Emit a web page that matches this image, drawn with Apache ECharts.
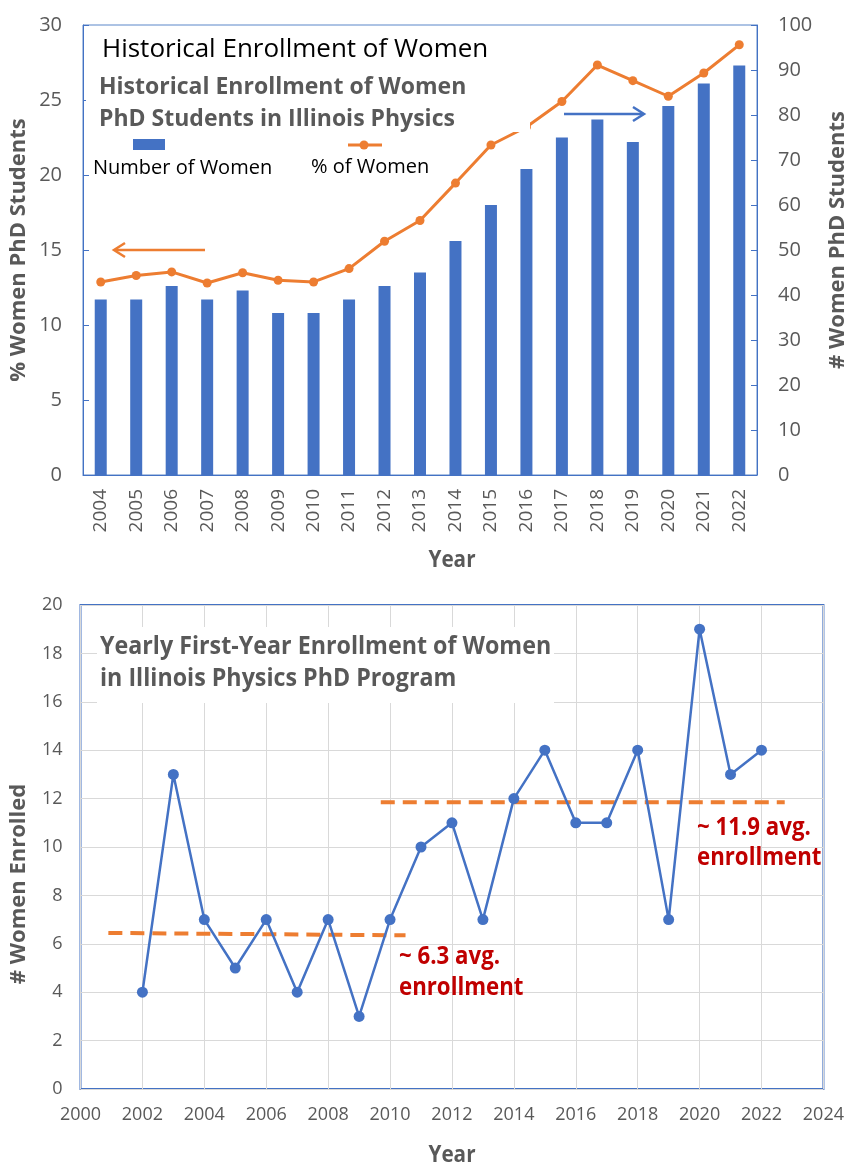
<!DOCTYPE html>
<html>
<head>
<meta charset="utf-8">
<script src="https://cdn.jsdelivr.net/npm/echarts@6/dist/echarts.min.js"></script>
<style>
  html, body { margin: 0; padding: 0; background: #fff; }
  #main { width: 847px; height: 1165px; }
</style>
</head>
<body>
<div id="main"></div>
<script>
// top chart: total women PhD students and their share
const years = ['2004', '2005', '2006', '2007', '2008', '2009', '2010', '2011', '2012', '2013',
  '2014', '2015', '2016', '2017', '2018', '2019', '2020', '2021', '2022']
const womenCount = [39, 39, 42, 39, 41, 36, 36, 39, 42, 45, 52, 60, 68, 75, 79, 74, 82, 87, 91]
const womenPct = [12.87, 13.3, 13.54, 12.8, 13.48, 12.98, 12.87, 13.76, 15.58, 16.97,
  19.46, 22.0, 23.2, 24.9, 27.33, 26.29, 25.25, 26.8, 28.68]
const pctTicks = { min: 0, max: 30, interval: 5 }
const countTicks = { min: 0, max: 100, interval: 10 }

// bottom chart: first-year enrollment
const firstYears = [2002, 2003, 2004, 2005, 2006, 2007, 2008, 2009, 2010, 2011, 2012,
  2013, 2014, 2015, 2016, 2017, 2018, 2019, 2020, 2021, 2022]
const firstYearWomen = [4, 13, 7, 5, 7, 4, 7, 3, 7, 10, 11, 7, 12, 14, 11, 11, 14, 7, 19, 13, 14]
const avgEarly = [[2000.9, 6.45], [2010.5, 6.35]]
const avgLate = [[2009.7, 11.85], [2022.75, 11.85]]
const yearTicks = { min: 2000, max: 2024, interval: 2 }
const enrolledTicks = { min: 0, max: 20, interval: 2 }

const BLUE = '#4472C4'
const ORANGE = '#ED7D31'
const GRAY = '#595959'
const RED = '#C00000'
const FONT = '"Open Sans"'

const myChart = echarts.init(document.getElementById('main'))

// plain text placed on the canvas; sx squeezes it a little to look like a narrow font
function txt (x, y, text, font, fill, opts) {
  opts = opts || {}
  return {
    type: 'text',
    x: x,
    y: y,
    z: 101,
    rotation: opts.rot || 0,
    scaleX: opts.sx || 1,
    style: { text: text, font: font, fill: fill, align: opts.align || 'left', verticalAlign: 'middle' }
  }
}

const option = {
  animation: false,
  grid: [
    { left: 83, right: 90, top: 25, height: 450, show: true, borderColor: '#5B87C9', borderWidth: 1 },
    { left: 80.5, right: 21.5, top: 605, height: 484, show: true, borderColor: BLUE, borderWidth: 2 }
  ],
  xAxis: [
    {
      gridIndex: 0,
      type: 'category',
      data: years,
      boundaryGap: true,
      axisLine: { lineStyle: { color: BLUE, width: 1 } },
      axisTick: { show: false },
      axisLabel: { rotate: 90, margin: 14, color: GRAY, fontFamily: FONT, fontSize: 19 }
    },
    {
      gridIndex: 1,
      type: 'value',
      min: yearTicks.min,
      max: yearTicks.max,
      interval: yearTicks.interval,
      axisLine: { show: false },
      axisTick: { show: false },
      splitLine: { show: true, lineStyle: { color: '#D9D9D9', width: 1 } },
      axisLabel: { margin: 17, color: GRAY, fontFamily: FONT, fontSize: 18, formatter: v => String(v) }
    }
  ],
  yAxis: [
    {
      gridIndex: 0,
      type: 'value',
      position: 'left',
      min: pctTicks.min,
      max: pctTicks.max,
      interval: pctTicks.interval,
      axisLine: { show: true, lineStyle: { color: BLUE, width: 1 } },
      axisTick: { show: true, inside: true, length: 6, lineStyle: { color: BLUE } },
      splitLine: { show: false },
      axisLabel: { margin: 21, color: GRAY, fontFamily: FONT, fontSize: 20 }
    },
    {
      gridIndex: 0,
      type: 'value',
      position: 'right',
      min: countTicks.min,
      max: countTicks.max,
      interval: countTicks.interval,
      axisLine: { show: true, lineStyle: { color: BLUE, width: 1 } },
      axisTick: { show: true, inside: true, length: 6, lineStyle: { color: BLUE } },
      splitLine: { show: false },
      axisLabel: { margin: 21, color: GRAY, fontFamily: FONT, fontSize: 20 }
    },
    {
      gridIndex: 1,
      type: 'value',
      min: enrolledTicks.min,
      max: enrolledTicks.max,
      interval: enrolledTicks.interval,
      axisLine: { show: false },
      axisTick: { show: false },
      splitLine: { show: true, lineStyle: { color: '#D9D9D9', width: 1 } },
      axisLabel: { margin: 18, color: GRAY, fontFamily: FONT, fontSize: 18 }
    }
  ],
  series: [
    {
      name: 'Number of Women',
      type: 'bar',
      xAxisIndex: 0,
      yAxisIndex: 1,
      barWidth: 12,
      itemStyle: { color: BLUE },
      data: womenCount
    },
    {
      name: '% of Women',
      type: 'line',
      xAxisIndex: 0,
      yAxisIndex: 0,
      symbol: 'circle',
      symbolSize: 9,
      itemStyle: { color: ORANGE },
      lineStyle: { color: ORANGE, width: 3 },
      data: womenPct
    },
    {
      name: 'avg early',
      type: 'line',
      xAxisIndex: 1,
      yAxisIndex: 2,
      symbol: 'none',
      lineStyle: { color: ORANGE, width: 4, type: [14, 8] },
      data: avgEarly
    },
    {
      name: 'avg late',
      type: 'line',
      xAxisIndex: 1,
      yAxisIndex: 2,
      symbol: 'none',
      lineStyle: { color: ORANGE, width: 4, type: [14, 8] },
      data: avgLate
    },
    {
      name: 'first-year women',
      type: 'line',
      xAxisIndex: 1,
      yAxisIndex: 2,
      z: 3,
      symbol: 'circle',
      symbolSize: 11,
      itemStyle: { color: BLUE },
      lineStyle: { color: BLUE, width: 2.5 },
      data: firstYears.map((y, i) => [y, firstYearWomen[i]])
    }
  ],
  graphic: [
    // white boxes behind the titles
    { type: 'rect', z: 100, shape: { x: 86, y: 28, width: 444, height: 104 }, style: { fill: '#fff' } },
    { type: 'rect', z: 100, shape: { x: 97, y: 627, width: 457, height: 76 }, style: { fill: '#fff' } },

    // top chart titles + legend
    txt(102, 50, 'Historical Enrollment of Women', '26px ' + FONT, '#000'),
    txt(99, 87, 'Historical Enrollment of Women', 'bold 23px ' + FONT, GRAY),
    txt(99, 119, 'PhD Students in Illinois Physics', 'bold 23px ' + FONT, GRAY),
    { type: 'rect', z: 101, shape: { x: 133, y: 139, width: 32, height: 11 }, style: { fill: BLUE } },
    { type: 'line', z: 101, shape: { x1: 348, y1: 145, x2: 382, y2: 145 }, style: { stroke: ORANGE, lineWidth: 3 } },
    { type: 'circle', z: 101, shape: { cx: 364, cy: 145, r: 4.5 }, style: { fill: ORANGE } },
    txt(93, 168, 'Number of Women', '20px ' + FONT, '#000'),
    txt(311, 167, '% of Women', '20px ' + FONT, '#000'),

    // arrows pointing at the axes
    { type: 'line', z: 101, shape: { x1: 205, y1: 250, x2: 115, y2: 250 }, style: { stroke: ORANGE, lineWidth: 2.5 } },
    { type: 'polyline', z: 101, shape: { points: [[125, 243], [114, 250], [125, 257]] }, style: { stroke: ORANGE, lineWidth: 2.5, fill: null } },
    { type: 'line', z: 101, shape: { x1: 564, y1: 114, x2: 643, y2: 114 }, style: { stroke: BLUE, lineWidth: 2.5 } },
    { type: 'polyline', z: 101, shape: { points: [[633, 107], [644, 114], [633, 121]] }, style: { stroke: BLUE, lineWidth: 2.5, fill: null } },

    // axis titles
    txt(19, 250, '% Women PhD Students', 'bold 22px ' + FONT, GRAY, { rot: Math.PI / 2, align: 'center' }),
    txt(838, 240, '# Women PhD Students', 'bold 22px ' + FONT, GRAY, { rot: Math.PI / 2, align: 'center' }),
    txt(452, 560, 'Year', 'bold 23px ' + FONT, GRAY, { align: 'center', sx: 0.9 }),
    txt(19, 884, '# Women Enrolled', 'bold 22px ' + FONT, GRAY, { rot: Math.PI / 2, align: 'center' }),
    txt(452, 1155, 'Year', 'bold 23px ' + FONT, GRAY, { align: 'center', sx: 0.9 }),

    // bottom chart title and annotations
    txt(100, 647, 'Yearly First-Year Enrollment of Women', 'bold 25px ' + FONT, GRAY, { sx: 0.93 }),
    txt(100, 679, 'in Illinois Physics PhD Program', 'bold 25px ' + FONT, GRAY, { sx: 0.93 }),
    txt(399, 957, '~ 6.3 avg.', 'bold 25px ' + FONT, RED, { sx: 0.89 }),
    txt(399, 988, 'enrollment', 'bold 25px ' + FONT, RED, { sx: 0.89 }),
    txt(697, 828, '~ 11.9 avg.', 'bold 25px ' + FONT, RED, { sx: 0.89 }),
    txt(697, 858, 'enrollment', 'bold 25px ' + FONT, RED, { sx: 0.89 })
  ]
}

myChart.setOption(option)
</script>
</body>
</html>
